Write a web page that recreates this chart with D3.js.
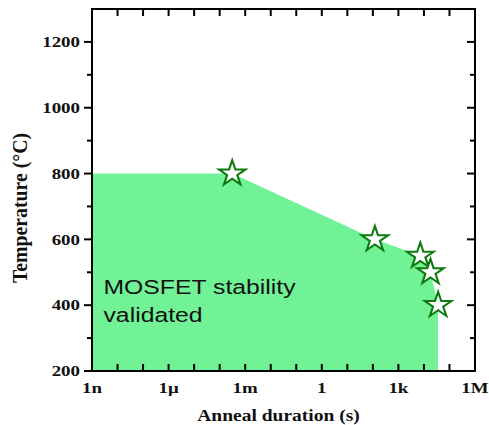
<!DOCTYPE html>
<html><head><meta charset="utf-8">
<script src="https://cdn.jsdelivr.net/npm/d3@7"></script>
<style>body{margin:0;background:#fff}svg{display:block}</style>
</head><body>
<svg id="c" width="489" height="425"></svg>
<script>
// ---- data ----
const starDur = [3.1e-4, 120, 7200, 18000, 36000];      // anneal duration (s)
const starTemp = [800, 600, 550, 500, 400];             // temperature (°C)
const regionDur = [1e-9, 3.1e-4, 120, 7200, 18000, 36000, 36000, 1e-9];
const regionTemp = [800, 800, 600, 550, 500, 400, 200, 200];
const xTickVals = [1e-9, 1e-6, 1e-3, 1, 1e3, 1e6];
const xTickLabels = ["1n", "1\u03bc", "1m", "1", "1k", "1M"];
const yTickVals = [200, 400, 600, 800, 1000, 1200];
const annotation = ["MOSFET stability", "validated"];

// ---- layout ----
const L = 92, R = 475, T = 9, B = 371, SX = 1.22;
const svg = d3.select("#c");
const x = d3.scaleLog().domain([1e-9, 1e6]).range([L, R]);
const y = d3.scaleLinear().domain([200, 1300]).range([B, T]);

// region
svg.append("path")
  .datum(regionDur.map((d, i) => [d, regionTemp[i]]))
  .attr("d", d3.line().x(d => x(d[0])).y(d => y(d[1])))
  .attr("fill", "#72f296");

// annotation
svg.selectAll("text.ann").data(annotation).join("text")
  .attr("class", "ann")
  .attr("transform", (d, i) => `translate(103.5,${294 + i * 28}) scale(1.25,1)`)
  .attr("font-family", "Liberation Sans, Arial, sans-serif")
  .attr("font-size", 19.8)
  .attr("fill", "#111")
  .text(d => d);

// stars
const star = d3.symbol().type(d3.symbolStar).size(200);
svg.selectAll("path.star").data(starDur).join("path")
  .attr("class", "star")
  .attr("transform", (d, i) => `translate(${x(d)},${y(starTemp[i])}) scale(1.05,1)`)
  .attr("d", star)
  .attr("fill", "#fff")
  .attr("stroke", "#0f7a0f")
  .attr("stroke-width", 2)
  .attr("stroke-linejoin", "miter");

// ticks
const decades = d3.range(-9, 7).map(e => Math.pow(10, e));
const tk = svg.append("g").attr("stroke", "#000").attr("stroke-width", 2);
tk.selectAll("line.bt").data(decades.slice(1, -1)).join("line")
  .attr("x1", d => x(d)).attr("x2", d => x(d)).attr("y1", B).attr("y2", B - 7);
tk.selectAll("line.tp").data(decades.slice(1, -1)).join("line")
  .attr("x1", d => x(d)).attr("x2", d => x(d)).attr("y1", T).attr("y2", T + 7);
const hundreds = d3.range(300, 1300, 100);
tk.selectAll("line.lf").data(d3.range(200, 1300, 100)).join("line")
  .attr("x1", L).attr("x2", d => L - (d % 200 === 0 ? 8 : 5))
  .attr("y1", d => y(d)).attr("y2", d => y(d));
tk.selectAll("line.rt").data(hundreds).join("line")
  .attr("x1", R).attr("x2", d => R - (d % 200 === 0 ? 8 : 5))
  .attr("y1", d => y(d)).attr("y2", d => y(d));

// frame
svg.append("rect").attr("x", L).attr("y", T).attr("width", R - L).attr("height", B - T)
  .attr("fill", "none").attr("stroke", "#000").attr("stroke-width", 2);

const serif = "Liberation Serif, Times New Roman, serif";
svg.selectAll("text.xt").data(xTickVals).join("text")
  .attr("transform", d => `translate(${x(d)},392.5) scale(${SX},1)`)
  .attr("text-anchor", "middle").attr("font-family", serif).attr("font-weight", "bold")
  .attr("font-size", 15.5).attr("fill", "#111")
  .text((d, i) => xTickLabels[i]);
svg.selectAll("text.yt").data(yTickVals).join("text")
  .attr("transform", d => `translate(80,${y(d) + 5.3}) scale(${SX},1)`)
  .attr("text-anchor", "end").attr("font-family", serif).attr("font-weight", "bold")
  .attr("font-size", 15.5).attr("fill", "#111")
  .text(d => d);
svg.append("text")
  .attr("transform", `translate(278.5,421) scale(${SX},1)`)
  .attr("text-anchor", "middle").attr("font-family", serif).attr("font-weight", "bold")
  .attr("font-size", 16).attr("fill", "#111")
  .text("Anneal duration (s)");
svg.append("text")
  .attr("transform", `translate(27,208) scale(1.1,1) rotate(-90)`)
  .attr("text-anchor", "middle").attr("font-family", serif).attr("font-weight", "bold")
  .attr("font-size", 19.8).attr("fill", "#111")
  .text("Temperature (\u00b0C)");
</script>
</body></html>
